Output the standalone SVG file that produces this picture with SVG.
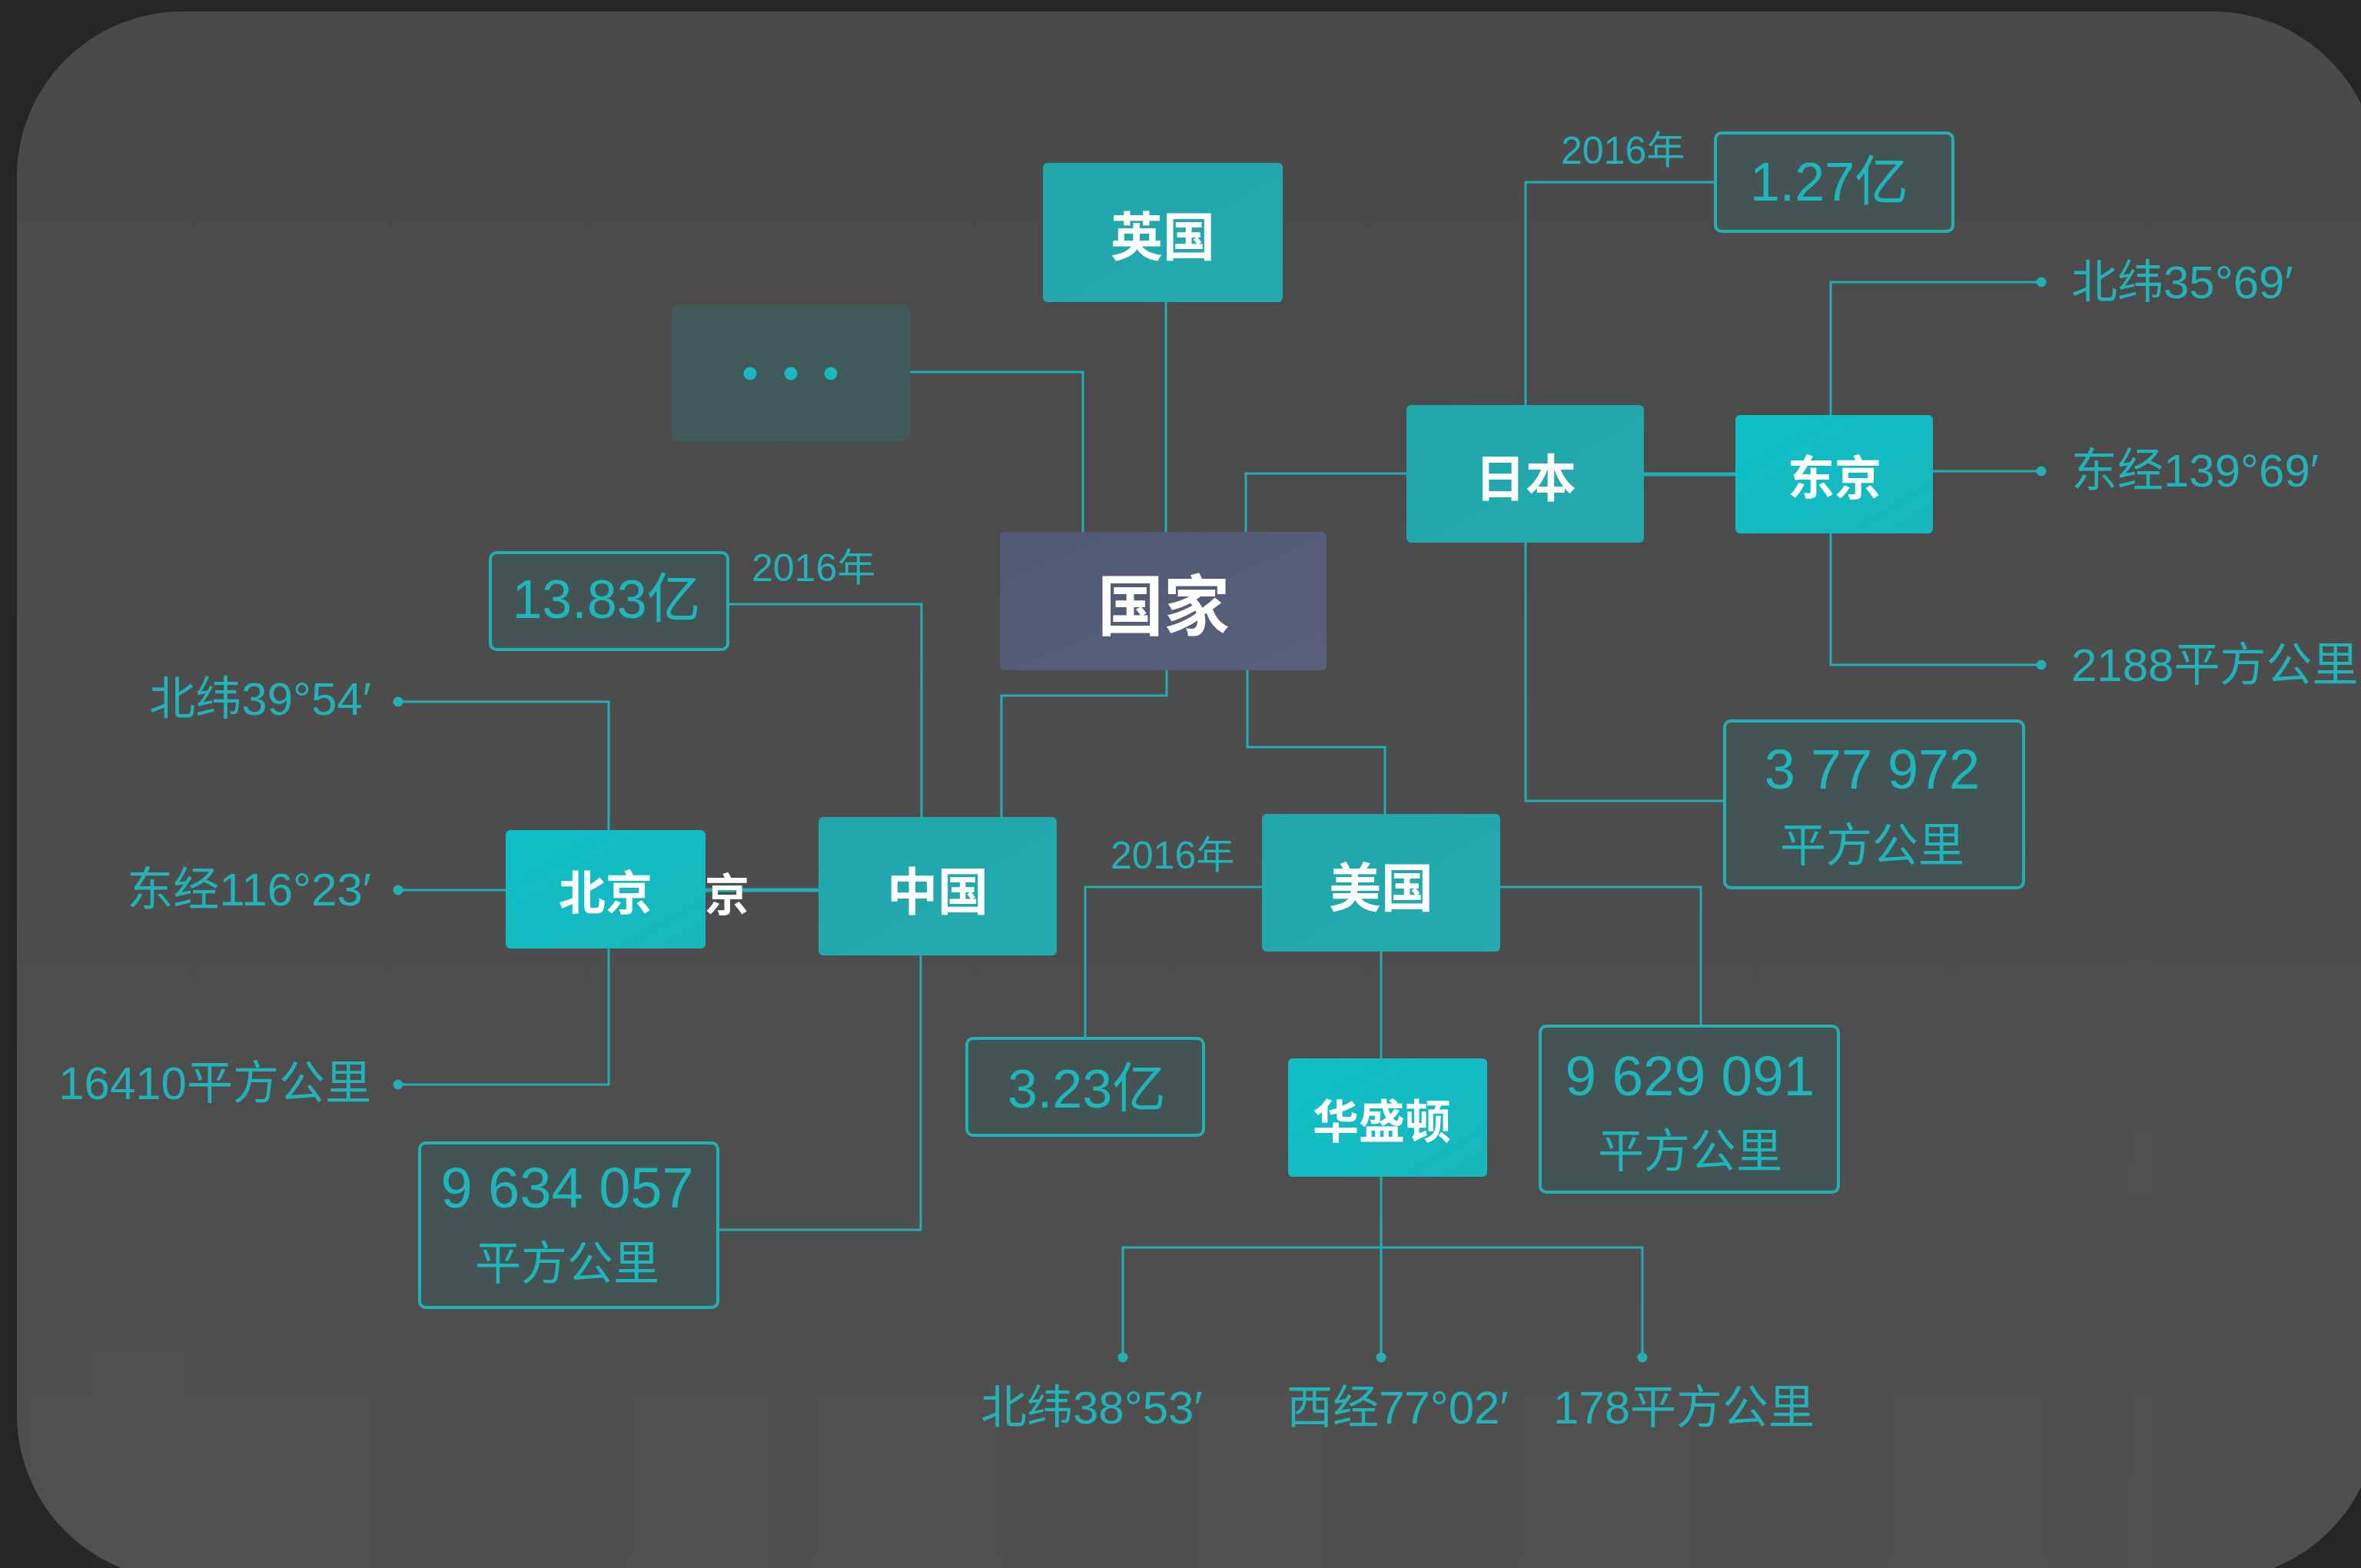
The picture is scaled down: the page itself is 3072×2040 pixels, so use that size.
<svg xmlns="http://www.w3.org/2000/svg" width="3072" height="2040" viewBox="0 0 3072 2040">
  <defs>
    <linearGradient id="bg" x1="0" y1="0" x2="0" y2="1">
      <stop offset="0" stop-color="#4a4a4a"/>
      <stop offset="1" stop-color="#4f4f4f"/>
    </linearGradient>
    <linearGradient id="teal" x1="0" y1="0" x2="1" y2="1">
      <stop offset="0" stop-color="#1fa7ac"/>
      <stop offset="1" stop-color="#23abb0"/>
    </linearGradient>
    <linearGradient id="teal2" x1="0" y1="0" x2="1" y2="1">
      <stop offset="0" stop-color="#0fc0c7"/>
      <stop offset="1" stop-color="#18b6bd"/>
    </linearGradient>
    <linearGradient id="slate" x1="0" y1="0" x2="1" y2="1">
      <stop offset="0" stop-color="#505a72"/>
      <stop offset="1" stop-color="#57617c"/>
    </linearGradient>
    <style>
      .teal { fill: url(#teal); }
      .teal2 { fill: url(#teal2); }
      .val { fill: #445454; stroke: #22b0b5; stroke-width: 4; }
      .conn { fill: none; stroke: #22aeb3; stroke-width: 3; }
      .thick { stroke-width: 5; }
      .dot { fill: #22b0b5; }
      .nt { fill: #ffffff; font-family: "Noto Sans CJK SC", "Liberation Sans", sans-serif; font-weight: 700; text-anchor: middle; dominant-baseline: central; }
      .vt { fill: #1fb6bb; font-family: "Liberation Sans", "Noto Sans CJK SC", sans-serif; text-anchor: middle; dominant-baseline: central; }
      .lb { fill: #22b2b7; font-family: "Liberation Sans", "Noto Sans CJK SC", sans-serif; font-size: 60px; dominant-baseline: central; }
      .yr { fill: #22b2b7; font-family: "Liberation Sans", "Noto Sans CJK SC", sans-serif; font-size: 50px; dominant-baseline: central; }
      .sky { fill: #ffffff; opacity: 0.008; }
    </style>
  </defs>

  <rect x="0" y="0" width="3072" height="2040" fill="#262626"/>
  <rect x="22" y="15" width="3072" height="2040" rx="215" ry="215" fill="url(#bg)"/>

  <g id="skyline">
    <rect class="sky" x="40" y="1600" width="440" height="440"/>
    <rect class="sky" x="120" y="1760" width="120" height="280"/>
    <rect class="sky" x="820" y="1640" width="180" height="400"/>
    <rect class="sky" x="1060" y="1720" width="240" height="320"/>
    <rect class="sky" x="1560" y="1660" width="160" height="380"/>
    <rect class="sky" x="1980" y="1700" width="220" height="340"/>
    <rect class="sky" x="2460" y="1600" width="200" height="440"/>
    <rect class="sky" x="2770" y="1250" width="30" height="790"/>
    <circle class="sky" cx="2785" cy="1510" r="45"/>
  </g>

  <g id="connectors">
    <path class="conn" d="M1184,484 H1409 V693"/>
    <path class="conn" d="M1517,393 V693"/>
    <path class="conn" d="M1621,693 V616 H1830"/>
    <path class="conn thick" d="M2139,617 H2258"/>
    <path class="conn" d="M1985,527 V237 H2232"/>
    <path class="conn" d="M1985,706 V1042 H2244"/>
    <path class="conn" d="M2382,540 V367 H2656"/>
    <path class="conn" d="M2515,613 H2656"/>
    <path class="conn" d="M2382,694 V865 H2656"/>
    <path class="conn" d="M1518,872 V905 H1303 V1063"/>
    <path class="conn" d="M1623,872 V972 H1802 V1059"/>
    <path class="conn" d="M947,786 H1199 V1063"/>
    <path class="conn thick" d="M918,1158 H1065"/>
    <path class="conn" d="M1198,1243 V1600 H934"/>
    <path class="conn" d="M792,1080 V913 H518"/>
    <path class="conn" d="M658,1158 H518"/>
    <path class="conn" d="M792,1234 V1411 H518"/>
    <path class="conn" d="M1642,1154 H1412 V1351"/>
    <path class="conn" d="M1952,1154 H2213 V1335"/>
    <path class="conn" d="M1797,1238 V1377"/>
    <path class="conn" d="M1797,1531 V1766"/>
    <path class="conn" d="M1461,1766 V1623 H2137 V1766"/>
    <circle class="dot" cx="2656" cy="367" r="6.5"/>
    <circle class="dot" cx="2656" cy="613" r="6.5"/>
    <circle class="dot" cx="2656" cy="865" r="6.5"/>
    <circle class="dot" cx="518" cy="913" r="6.5"/>
    <circle class="dot" cx="518" cy="1158" r="6.5"/>
    <circle class="dot" cx="518" cy="1411" r="6.5"/>
    <circle class="dot" cx="1461" cy="1766" r="6.5"/>
    <circle class="dot" cx="1797" cy="1766" r="6.5"/>
    <circle class="dot" cx="2137" cy="1766" r="6.5"/>
  </g>

  <g id="node-yingguo">
    <rect class="teal" x="1357" y="212" width="312" height="181" rx="6"/>
    <text class="nt" x="1513" y="303" font-size="68">英国</text>
  </g>
  <g id="node-more">
    <rect x="874" y="396" width="310" height="179" rx="10" fill="#405a5a"/>
    <circle cx="976" cy="486" r="8.5" fill="#1ab8be"/>
    <circle cx="1029" cy="486" r="8.5" fill="#1ab8be"/>
    <circle cx="1081" cy="486" r="8.5" fill="#1ab8be"/>
  </g>
  <g id="node-guojia">
    <rect x="1301" y="692" width="425" height="180" rx="6" fill="url(#slate)"/>
    <text class="nt" x="1514" y="782" font-size="86">国家</text>
  </g>
  <g id="node-riben">
    <rect class="teal" x="1830" y="527" width="309" height="179" rx="6"/>
    <text class="nt" x="1985" y="617" font-size="66">日本</text>
  </g>
  <g id="node-dongjing">
    <rect class="teal2" x="2258" y="540" width="257" height="154" rx="6"/>
    <text class="nt" x="2387" y="617" font-size="61">东京</text>
  </g>
  <g id="node-jp-pop">
    <rect class="val" x="2232" y="173" width="309" height="128" rx="8"/>
    <text class="vt" x="2380" y="237" font-size="70">1.27亿</text>
  </g>
  <text class="yr" x="2031" y="196">2016年</text>
  <g id="node-jp-area">
    <rect class="val" x="2244" y="938" width="389" height="217" rx="8"/>
    <text class="vt" x="2436" y="1001" font-size="72">3 77 972</text>
    <text class="vt" x="2436" y="1100" font-size="60">平方公里</text>
  </g>
  <text class="lb" x="2695" y="367">北纬35°69′</text>
  <text class="lb" x="2695" y="612">东经139°69′</text>
  <text class="lb" x="2695" y="865">2188平方公里</text>

  <g id="node-cn-pop">
    <rect class="val" x="638" y="719" width="309" height="126" rx="8"/>
    <text class="vt" x="789" y="780" font-size="70">13.83亿</text>
  </g>
  <text class="yr" x="978" y="739">2016年</text>
  <g id="node-beijing">
    <rect class="teal2" x="658" y="1080" width="260" height="154" rx="6"/>
    <text class="nt" x="788" y="1157" font-size="61">北京</text>
  </g>
  <text class="nt" x="946" y="1160" font-size="58">京</text>
  <g id="node-zhongguo">
    <rect class="teal" x="1065" y="1063" width="310" height="180" rx="6"/>
    <text class="nt" x="1220" y="1155" font-size="66">中国</text>
  </g>
  <g id="node-cn-area">
    <rect class="val" x="546" y="1487" width="388" height="214" rx="8"/>
    <text class="vt" x="738" y="1545" font-size="74">9 634 057</text>
    <text class="vt" x="738" y="1644" font-size="60">平方公里</text>
  </g>
  <text class="lb" x="483" y="909" text-anchor="end">北纬39°54′</text>
  <text class="lb" x="483" y="1157" text-anchor="end">东经116°23′</text>
  <text class="lb" x="483" y="1409" text-anchor="end">16410平方公里</text>

  <g id="node-meiguo">
    <rect class="teal" x="1642" y="1059" width="310" height="179" rx="6"/>
    <text class="nt" x="1797" y="1150" font-size="68">美国</text>
  </g>
  <text class="yr" x="1445" y="1113">2016年</text>
  <g id="node-us-pop">
    <rect class="val" x="1258" y="1351" width="308" height="126" rx="8"/>
    <text class="vt" x="1414" y="1417" font-size="70">3.23亿</text>
  </g>
  <g id="node-huashengdun">
    <rect class="teal2" x="1676" y="1377" width="259" height="154" rx="6"/>
    <text class="nt" x="1798" y="1454" font-size="60">华盛顿</text>
  </g>
  <g id="node-us-area">
    <rect class="val" x="2004" y="1335" width="388" height="216" rx="8"/>
    <text class="vt" x="2199" y="1399" font-size="73">9 629 091</text>
    <text class="vt" x="2199" y="1498" font-size="60">平方公里</text>
  </g>
  <text class="lb" x="1276" y="1831">北纬38°53′</text>
  <text class="lb" x="1674" y="1831">西经77°02′</text>
  <text class="lb" x="2021" y="1831">178平方公里</text>
</svg>
